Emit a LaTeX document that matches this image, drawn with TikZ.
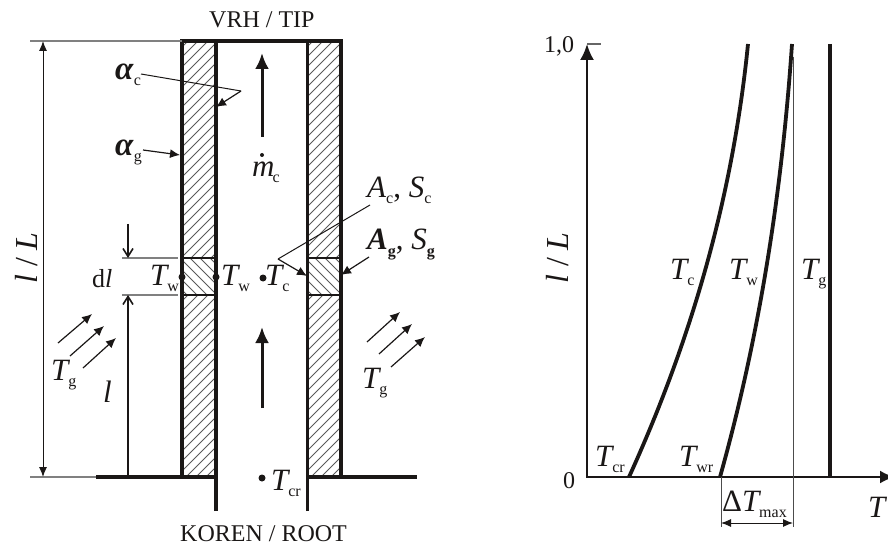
\documentclass[tikz,border=0pt]{standalone}
\usepackage{fontspec}
\setmainfont{Liberation Serif}
\usetikzlibrary{arrows.meta}
\definecolor{ink}{HTML}{1A1716}
\tikzset{
 x=1pt,y=-1pt,
 wall/.style={ink,line width=3.4pt},
 hatchl/.style={black!65,line width=.75pt},
 thinl/.style={ink,line width=1pt},
 midl/.style={ink,line width=1.6pt},
 greyl/.style={black!50,line width=1.6pt},
 hairl/.style={black!70,line width=.9pt},
 curvel/.style={ink,line width=3.8pt},
 arr/.style={ink,line width=1.2pt,-{Latex[length=10pt,width=9pt]}},
 bigarr/.style={ink,line width=3pt,-{Latex[length=16pt,width=14pt]}},
 barb/.style={midl,-{Straight Barb[length=8pt,width=10pt]}},
 dimarr/.style={thinl,{Latex[length=10pt,width=8pt]}-{Latex[length=10pt,width=8pt]}},
 lab/.style={inner sep=0pt,anchor=base west,font=\fontsize{31}{31}\selectfont,text=ink},
 plain/.style={lab,font=\fontsize{24}{24}\selectfont},
 rotlab/.style={inner sep=0pt,rotate=90,text=ink,font=\fontsize{32}{32}\selectfont},
 dotm/.style={circle,fill=ink,inner sep=0pt,minimum size=7pt},
}
\newcommand{\subt}[1]{\raisebox{-6pt}{\fontsize{16}{16}\selectfont #1}}
\newcommand{\Tsym}[2]{\textit{#1}\kern-2pt\subt{#2}}
\begin{document}
\begin{tikzpicture}
\useasboundingbox (0,0) rectangle (888,545);
% hatches
\begin{scope}
 \clip (182,41) rectangle (216,258);
 \foreach \i in {0,...,30}{\draw[hatchl] (178,{41+\i*10}) -- +(45,-45);}
\end{scope}
\begin{scope}
 \clip (182,295) rectangle (216,477);
 \foreach \i in {0,...,30}{\draw[hatchl] (178,{295+\i*10}) -- +(45,-45);}
\end{scope}
\begin{scope}
 \clip (307,41) rectangle (341,258);
 \foreach \i in {0,...,30}{\draw[hatchl] (303,{41+\i*10}) -- +(45,-45);}
\end{scope}
\begin{scope}
 \clip (307,295) rectangle (341,477);
 \foreach \i in {0,...,30}{\draw[hatchl] (303,{295+\i*10}) -- +(45,-45);}
\end{scope}
\begin{scope}
 \clip (182,258) rectangle (216,295);
 \foreach \i in {-6,...,10}{\draw[hatchl] ({150+\i*10},258) -- +(40,40);}
\end{scope}
\begin{scope}
 \clip (307,258) rectangle (341,295);
 \foreach \i in {-6,...,10}{\draw[hatchl] ({275+\i*10},258) -- +(40,40);}
\end{scope}
% walls
\draw[wall] (182,477) -- (182,41) -- (341,41) -- (341,477);
\draw[wall] (216,511) -- (216,41);
\draw[wall] (307.5,511) -- (307.5,41);
\draw[wall] (96,477) -- (216,477);
\draw[wall] (307,477) -- (417,477);
\draw[midl] (182,258) -- (216,258) (182,295) -- (216,295);
\draw[midl] (307,258) -- (341,258) (307,295) -- (341,295);
% dimension
\draw[greyl] (30,41) -- (182,41);
\draw[greyl] (30,477) -- (96,477);
\draw[greyl] (122,258) -- (178,258) (122,295) -- (178,295);
\draw[dimarr] (43,41) -- (43,477);
\coordinate (lb) at (128,477); \coordinate (lt) at (128,295);
\coordinate (dt) at (128,224); \coordinate (dm) at (128,258);
\draw[barb] (lb) -- (lt);
\draw[barb] (dt) -- (dm);
% labels left
\node[plain] (vrh) at (209,28) {VRH / TIP};
\node[plain] (koren) at (180,541) {KOREN / ROOT};
\node[rotlab] (lL) at (27,258) {\textit{l} / \textit{L}};
\node[lab,font=\fontsize{26}{26}\selectfont] (dl) at (92,287) {d\textit{l}};
\node[lab] (l) at (103,402) {\textit{l}};
\node[lab] (ac) at (115,80) {\fontsize{33}{33}\selectfont\textbf{\textit{α}}\subt{c}};
\node[lab] (ag) at (115,156) {\fontsize{33}{33}\selectfont\textbf{\textit{α}}\subt{g}};
\coordinate (kink) at (241,91);
\draw[thinl] (141,74) -- (kink);
\draw[arr] (kink) -- (216,107);
\draw[arr] (143,150) -- (180,155);
% flow arrows
\coordinate (fa) at (262,137); \coordinate (fb) at (262,53);
\coordinate (fc) at (262,408); \coordinate (fd) at (262,327);
\draw[bigarr] (fa) -- (fb);
\draw[bigarr] (fc) -- (fd);
\node[lab] (m) at (252,177) {\Tsym{m}{c}};
\node[dotm,minimum size=4pt] (mdot) at (262,155) {};
% mid labels
\node[lab] (tw1) at (150,285) {\Tsym{T}{w}};
\node[lab] (tw2) at (221,285) {\Tsym{T}{w}};
\node[lab] (tc) at (265,285) {\Tsym{T}{c}};
\node[dotm] (d1) at (182,277) {};
\node[dotm] (d2) at (216,277) {};
\node[dotm] (d3) at (263,278) {};
\node[dotm] (d4) at (262,478) {};
\node[lab] (tcr) at (271,490) {\Tsym{T}{cr}};
\node[lab] (acs) at (367,198) {\textit{A}\subt{c}, \textit{S}\subt{c}};
\node[lab] (ags) at (367,250) {\textbf{\textit{A}}\subt{\textbf{g}}, \textit{S}\subt{\textbf{g}}};
\coordinate (k2) at (278,259);
\draw[thinl] (370,205) -- (k2);
\draw[arr] (k2) -- (307,276);
\draw[arr] (369,257) -- (341,275);
% heat arrows
\foreach \ax/\ay/\bx/\by in {58/343/92/314, 70/356/104/326, 83/368/116/338, 367/342/400/312, 379/354/412/324, 391/367/425/337}{
 \draw[arr] (\ax,\ay) -- (\bx,\by);
}
\node[lab] (tg1) at (51,380) {\Tsym{T}{g}};
\node[lab] (tg2) at (362,388) {\Tsym{T}{g}};
% right plot
\draw[ink,line width=2.2pt,-{Latex[length=16pt,width=14pt]}] (587,477) -- (587,44);
\draw[ink,line width=2.8pt,-{Latex[length=15pt,width=13pt]}] (586,477) -- (895,477);
\draw[black!60,line width=1.4pt] (587,44) -- (601,44);
\draw[ink,line width=3.8pt] (830,44) -- (830,477);
\draw[curvel] (629,477) .. controls (695,332) and (733.5,189) .. (748,44);
\draw[curvel] (720,477) .. controls (760.6,332) and (782,189) .. (792,44);
\draw[hairl] (793,57) -- (793,527);
\draw[hairl] (721,477) -- (721,527);
\draw[dimarr] (721,523) -- (793,523);
\node[plain] (one) at (544,53) {1,0};
\node[plain] (zero) at (563,488) {0};
\node[rotlab] (lL2) at (558,258) {\textit{l} / \textit{L}};
\node[lab] (ptc) at (670,279) {\Tsym{T}{c}};
\node[lab] (ptw) at (729,279) {\Tsym{T}{w}};
\node[lab] (ptg) at (801,279) {\Tsym{T}{g}};
\node[lab] (ptcr) at (595,466) {\Tsym{T}{cr}};
\node[lab] (ptwr) at (679,466) {\Tsym{T}{wr}};
\node[lab] (dT) at (722,511) {Δ\Tsym{T}{max}};
\node[lab] (pT) at (868,517) {\textit{T}};
\end{tikzpicture}
\end{document}
